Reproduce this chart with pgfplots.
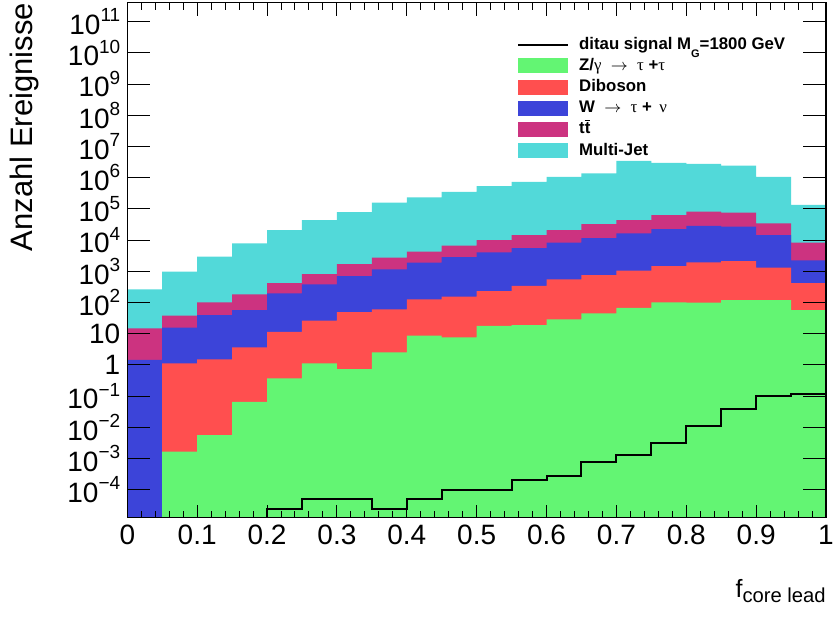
\documentclass[border=0pt]{standalone}
\usepackage{fontspec}
\setmainfont{Liberation Sans}
\newfontfamily\grk{Liberation Serif}
\usepackage{pgfplots}
\pgfplotsset{compat=1.18}
\usepackage{pgfplotstable}

\definecolor{cZ}{RGB}{99,245,115}
\definecolor{cDB}{RGB}{255,79,79}
\definecolor{cW}{RGB}{60,68,217}
\definecolor{cTT}{RGB}{204,51,128}
\definecolor{cMJ}{RGB}{82,217,217}

\pgfplotsset{
  boxleg/.style={legend image code/.code={\fill[##1] (0pt,-3.75pt) rectangle (25pt,3.75pt);}},
  lineleg/.style={legend image code/.code={\draw[##1] (0pt,0pt) -- (25pt,0pt);}},
}

\newcommand\yexp[1]{\raisebox{0.45em}{\fontsize{9.5}{10}\selectfont #1}}
\newcommand\mylog[1]{%
  \pgfmathtruncatemacro\myexp{round(#1)}%
  \ifnum\myexp=0 1%
  \else\ifnum\myexp=1 10%
  \else\ifnum\myexp<0 \pgfmathtruncatemacro\myabs{-\myexp}10\yexp{−\myabs}%
  \else 10\yexp{\myexp}\fi\fi\fi}

% stacked totals (left bin edge, cumulative content)
\pgfplotstableread{
x y
0.00 263
0.05 977
0.10 2950
0.15 7940
0.20 20900
0.25 43600
0.30 79400
0.35 158000
0.40 234000
0.45 355000
0.50 537000
0.55 741000
0.60 1070000
0.65 1380000
0.70 3470000
0.75 3000000
0.80 2800000
0.85 2450000
0.90 1070000
0.95 135000
1.00 135000
}\multijet
\pgfplotstableread{
x y
0.00 14.8
0.05 38
0.10 102
0.15 182
0.20 417
0.25 813
0.30 1700
0.35 2750
0.40 4270
0.45 6610
0.50 10000
0.55 14500
0.60 20900
0.65 32400
0.70 43600
0.75 63100
0.80 81300
0.85 75900
0.90 34700
0.95 8320
1.00 8320
}\ttbar
\pgfplotstableread{
x y
0.00 1.45
0.05 15.8
0.10 39.8
0.15 57.5
0.20 195
0.25 380
0.30 708
0.35 1150
0.40 1910
0.45 2880
0.50 4070
0.55 5500
0.60 8320
0.65 11500
0.70 16600
0.75 22400
0.80 28800
0.85 26900
0.90 14500
0.95 2240
1.00 2240
}\wtau
\pgfplotstableread{
x y
0.05 1.12
0.10 1.51
0.15 3.63
0.20 11.5
0.25 26.3
0.30 49
0.35 60.3
0.40 126
0.45 155
0.50 234
0.55 339
0.60 550
0.65 759
0.70 1050
0.75 1480
0.80 1950
0.85 2140
0.90 1320
0.95 417
1.00 417
}\diboson
\pgfplotstableread{
x y
0.05 0.00166
0.10 0.00562
0.15 0.066
0.20 0.37
0.25 1.12
0.30 0.74
0.35 2.51
0.40 8.7
0.45 7.6
0.50 17.8
0.55 19
0.60 28.8
0.65 44.7
0.70 67.6
0.75 102
0.80 100
0.85 120
0.90 120
0.95 57.5
1.00 57.5
}\ztau
\pgfplotstableread{
x y
0.00 1.27e-5
0.05 1.27e-5
0.10 1.27e-5
0.15 1.27e-5
0.20 2.5e-5
0.25 4.9e-5
0.30 4.9e-5
0.35 2.5e-5
0.40 4.9e-5
0.45 9.8e-5
0.50 9.8e-5
0.55 2.0e-4
0.60 2.8e-4
0.65 7.9e-4
0.70 1.3e-3
0.75 3.1e-3
0.80 0.011
0.85 0.038
0.90 0.10
0.95 0.115
1.00 0.115
}\signal

\begin{document}
\begin{tikzpicture}
\useasboundingbox (0,0) rectangle (417pt,308.5pt);
\begin{axis}[
  at={(63.65pt,49.65pt)}, anchor=south west,
  scale only axis, width=349.35pt, height=257.5pt,
  xmin=0, xmax=1,
  ymode=log, log basis y=10, ymin=1.27e-5, ymax=4.07e11,
  log origin y=infty,
  axis on top,
  axis line style={line width=0.6pt},
  xtick={0,0.1,0.2,0.3,0.4,0.5,0.6,0.7,0.8,0.9,1},
  minor x tick num=4,
  ytickten={-4,...,11},
  xtick pos=both, ytick pos=both, tick align=inside,
  major tick length=6.5pt, minor tick length=3.5pt,
  every tick/.append style={line width=0.5pt, black},
  every major y tick/.append style={/pgfplots/major tick length=11.5pt},
  every minor y tick/.append style={/pgfplots/minor tick length=5.5pt},
  tick label style={font=\fontsize{14}{16}\selectfont},
  /pgf/number format/assume math mode=true,
  log number format basis/.code 2 args={\mylog{#2}},
  xlabel={f\raisebox{-2.5pt}{\fontsize{10.1}{12}\selectfont core lead}},
  xlabel style={at={(axis description cs:1,-0.154)}, anchor=base east, font=\fontsize{12.5}{15}\selectfont, inner sep=0pt},
  ylabel={Anzahl Ereignisse},
  ylabel style={at={(axis description cs:-0.135,1)}, anchor=base east, font=\fontsize{15.5}{18}\selectfont, inner sep=0pt},
  legend style={draw=none, fill=none, at={(axis description cs:0.558,0.935)}, anchor=north west,
    inner sep=0pt, outer sep=0pt, row sep=2.1pt, column sep=5pt,
    font=\bfseries\fontsize{8.4}{10}\selectfont,
    nodes={inner sep=0pt, text height=6.5pt, text depth=2pt}},
  legend cell align=left,
  reverse legend,
]
\addplot[fill=cMJ, draw=none, const plot mark left, boxleg]
  table[x=x,y=y] {\multijet} \closedcycle;
\addlegendentry{Multi-Jet}
\addplot[fill=cTT, draw=none, const plot mark left, boxleg]
  table[x=x,y=y] {\ttbar} \closedcycle;
\addlegendentry{t$\overline{\mbox{t}}$}
\addplot[fill=cW, draw=none, const plot mark left, boxleg]
  table[x=x,y=y] {\wtau} \closedcycle;
\addlegendentry{W \ $\rightarrow$ \ {\grk\mdseries τ} + \,{\grk\mdseries ν}}
\addplot[fill=cDB, draw=none, const plot mark left, boxleg]
  table[x=x,y=y] {\diboson} \closedcycle;
\addlegendentry{Diboson}
\addplot[fill=cZ, draw=none, const plot mark left, boxleg]
  table[x=x,y=y] {\ztau} \closedcycle;
\addlegendentry{Z/{\grk\mdseries γ} \ $\rightarrow$ \ {\grk\mdseries τ} +{\grk\mdseries τ}}
\addplot[black, line width=1pt, const plot mark left, lineleg]
  table[x=x,y=y] {\signal};
\addlegendentry{ditau signal M\raisebox{-4pt}{\fontsize{5.5}{6}\selectfont G}=1800 GeV}
\end{axis}
\end{tikzpicture}
\end{document}
